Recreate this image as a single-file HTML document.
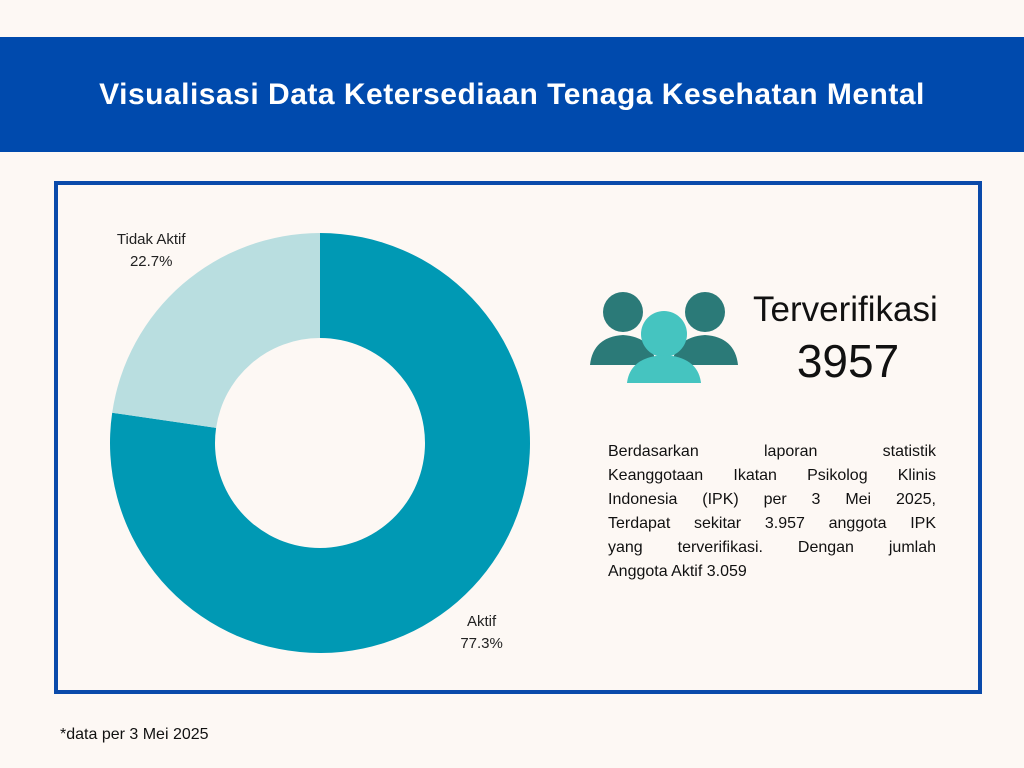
<!DOCTYPE html>
<html><head><meta charset="utf-8"><style>
body{margin:0;width:1024px;height:768px;background:#FDF8F4;font-family:"Liberation Sans",sans-serif;position:relative;overflow:hidden}
.hdr{position:absolute;left:0;top:37px;width:1024px;height:115px;background:#004AAD;color:#fff;font-weight:bold;font-size:30px;letter-spacing:0.5px;text-align:center;line-height:115px}
.box{position:absolute;left:54px;top:181px;width:920px;height:505px;border:4px solid #0A4AAA}
.t{position:absolute;color:#111}
.para{position:absolute;left:608px;top:440px;width:328px;font-size:16px;line-height:24px;color:#111}
.para div{text-align:justify;text-align-last:justify;white-space:nowrap}
.para div.last{text-align-last:left}
</style></head><body>
<div class="hdr">Visualisasi Data Ketersediaan Tenaga Kesehatan Mental</div>
<div class="box"></div>
<svg id="chart" width="1024" height="768" style="position:absolute;left:0;top:0"></svg>
<svg width="160" height="110" style="position:absolute;left:585px;top:285px">
<circle cx="38" cy="27" r="20" fill="#2B7A78"/><path d="M5 80 Q8 52 38 50 Q68 52 71 80Z" fill="#2B7A78"/>
<circle cx="120" cy="27" r="20" fill="#2B7A78"/><path d="M87 80 Q90 52 120 50 Q150 52 153 80Z" fill="#2B7A78"/>
<circle cx="79" cy="49" r="23" fill="#45C4C0"/><path d="M42 98 Q45 72 79 70 Q113 72 116 98Z" fill="#45C4C0"/>
</svg>
<div class="t" style="left:753px;top:290px;font-size:35px">Terverifikasi</div>
<div class="t" style="left:753px;top:334px;width:190px;text-align:center;font-size:46px">3957</div>
<div class="para">
<div>Berdasarkan laporan statistik</div>
<div>Keanggotaan Ikatan Psikolog Klinis</div>
<div>Indonesia (IPK) per 3 Mei 2025,</div>
<div>Terdapat sekitar 3.957 anggota IPK</div>
<div>yang terverifikasi. Dengan jumlah</div>
<div class="last">Anggota Aktif 3.059</div>
</div>
<div class="t" style="left:60px;top:726px;font-size:16px">*data per 3 Mei 2025</div>
<script>
const categories=["Aktif","Tidak Aktif"];
const values=[77.3,22.7];
const colors=["#0099B4","#B9DEE0"];
const svg=document.getElementById('chart');const NS="http://www.w3.org/2000/svg";
const cx=320,cy=443,R=210,r=105;
const total=values.reduce((a,b)=>a+b,0);
let a0=0;
function pt(a,rad){return [cx+rad*Math.sin(a),cy-rad*Math.cos(a)];}
values.forEach((v,i)=>{
 const a1=a0+v/total*2*Math.PI;const big=(a1-a0)>Math.PI?1:0;
 const [x1,y1]=pt(a0,R),[x2,y2]=pt(a1,R),[x3,y3]=pt(a1,r),[x4,y4]=pt(a0,r);
 const p=document.createElementNS(NS,'path');
 p.setAttribute('d',`M${x1} ${y1}A${R} ${R} 0 ${big} 1 ${x2} ${y2}L${x3} ${y3}A${r} ${r} 0 ${big} 0 ${x4} ${y4}Z`);
 p.setAttribute('fill',colors[i]);
 
 
 svg.appendChild(p);
 const mid=(a0+a1)/2;const [lx,ly]=pt(mid,i===0?247:258);
 const lab=[categories[i],v.toFixed(1)+'%'];
 lab.forEach((s,j)=>{const t=document.createElementNS(NS,'text');
  t.setAttribute('x',lx);t.setAttribute('y',ly-4+j*22);t.setAttribute('text-anchor','middle');
  t.setAttribute('font-size','15');t.setAttribute('fill','#222');t.textContent=s;
  
  
  svg.appendChild(t);});
 a0=a1;
});
</script>
</body></html>
